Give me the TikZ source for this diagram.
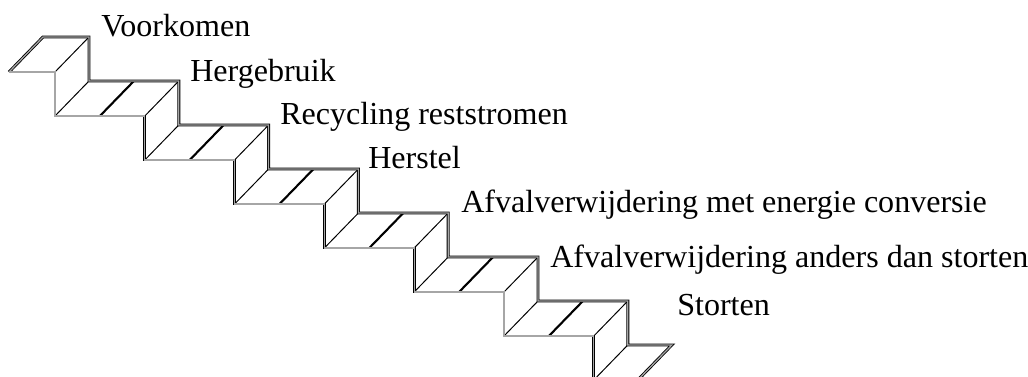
\documentclass[tikz,border=0pt]{standalone}
\usepackage{fontspec}
\setmainfont{Liberation Serif}

\begin{document}
\begin{tikzpicture}[x=0.025cm, y=-0.025cm,
    rim/.style={draw=black, double=gray!70, double distance=0.9pt, line width=0.6pt, line join=miter},
    seam/.style={draw=black, line width=0.7pt},
    split/.style={draw=black, line width=1.5pt},
    tag/.style={anchor=base west, inner sep=0pt, font=\fontsize{22.8}{27}\selectfont}]
          \clip (0,0) rectangle (1028,376);
          \foreach \k in {0,...,6}{
            \draw [seam] ({89+89.8*\k-34},{37+44*\k+35}) -- ({89+89.8*\k},{37+44*\k});
            \draw [seam] ({89+89.8*\k-34},{37+44*\k+79}) -- ({89+89.8*\k},{37+44*\k+44});
          }
          \foreach \k in {1,...,6}{
            \draw [split] ({89+89.8*\k-44.9-34},{37+44*\k+35}) -- ({89+89.8*\k-44.9},{37+44*\k});
          }
          \draw [rim] (9,72) -- (43,37) -- (89,37)
            \foreach \k in {1,...,6}{ -- ++(0,44) -- ++(89.8,0) }
            -- ++(0,44) -- ++(44,0) -- ++(-34,35);
          \draw [rim] (9,72) -- (55,72)
            \foreach \k in {1,...,6}{ -- ++(0,44) -- ++(89.8,0) }
            -- ++(0,44) -- ++(0,10);
          \foreach \name/\x/\y/\txt in {
            prevent/101/36/Voorkomen, reuse/190/81/Hergebruik,
            recycle/280/124/Recycling reststromen, repair/368/168/Herstel,
            energy/461/212/Afvalverwijdering met energie conversie,
            other/550/267/Afvalverwijdering anders dan storten,
            landfill/677/315/Storten
          }{
            \node [tag] (\name) at (\x,\y) {\txt};
          }
        \end{tikzpicture}
\end{document}
